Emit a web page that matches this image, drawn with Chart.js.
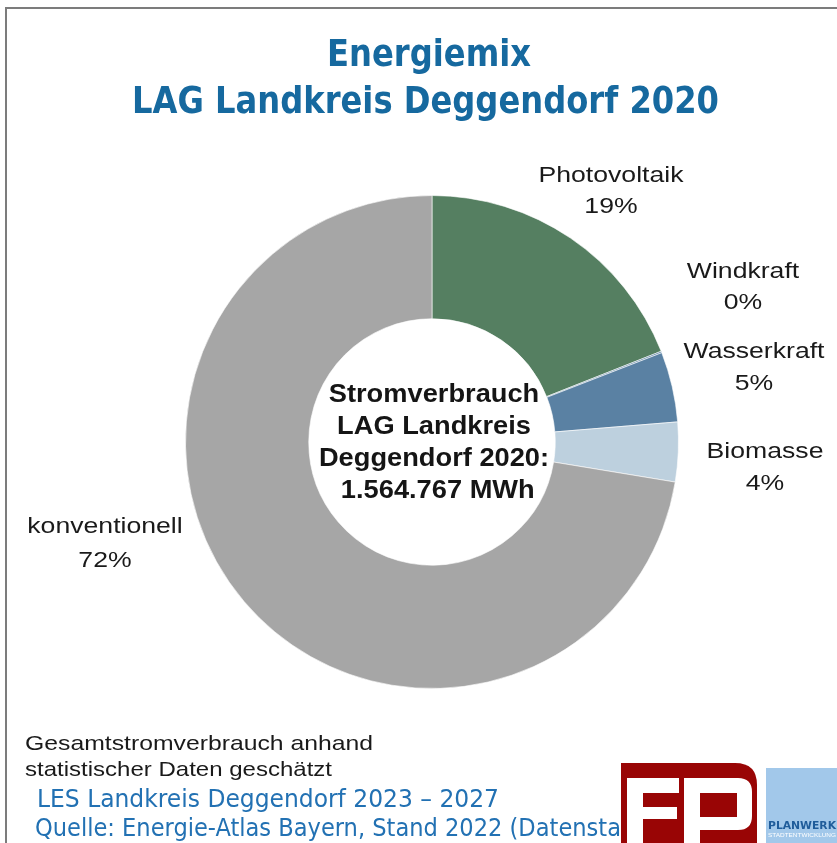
<!DOCTYPE html>
<html>
<head>
<meta charset="utf-8">
<script src="https://cdn.jsdelivr.net/npm/chart.js@4/dist/chart.umd.min.js"></script>
<style>
html,body{margin:0;padding:0;background:#fff;}
#wrap{position:relative;width:837px;height:843px;overflow:hidden;background:#fff;}
canvas{position:absolute;left:0;top:0;}
</style>
</head>
<body>
<div id="wrap"><canvas id="c" width="837" height="843"></canvas></div>
<script>
// ---- data ----
const chartTitle = ['Energiemix', 'LAG Landkreis Deggendorf 2020'];
const categories = ['Photovoltaik', 'Windkraft', 'Wasserkraft', 'Biomasse', 'konventionell'];
const shares = [19.0, 0.1, 4.6, 3.9, 72.4];          // percent of electricity consumption
const sliceColors = ['#557F61', '#5A81A3', '#5A81A3', '#BDD0DE', '#A6A6A6'];
const centerLabel = ['Stromverbrauch', 'LAG Landkreis', 'Deggendorf 2020:'];
const totalMWh = 1564767;
const noteLines = ['Gesamtstromverbrauch anhand', 'statistischer Daten geschätzt'];
const footerLines = ['LES Landkreis Deggendorf 2023 – 2027', 'Quelle: Energie-Atlas Bayern, Stand 2022 (Datensta'];

// draw text stretched to fill [x0,x1] on a baseline
function fitText(ctx, text, x0, x1, y, font, color) {
  ctx.save();
  ctx.font = font;
  ctx.fillStyle = color;
  ctx.textAlign = 'left';
  ctx.textBaseline = 'alphabetic';
  const w = ctx.measureText(text).width;
  ctx.translate(x0, y);
  ctx.scale((x1 - x0) / w, 1);
  ctx.fillText(text, 0, 0);
  ctx.restore();
}
// draw text centred at cx with a horizontal stretch factor
function stretchText(ctx, text, cx, y, font, color, sx) {
  ctx.save();
  ctx.font = font;
  ctx.fillStyle = color;
  ctx.textAlign = 'center';
  ctx.textBaseline = 'alphabetic';
  ctx.translate(cx, y);
  ctx.scale(sx, 1);
  ctx.fillText(text, 0, 0);
  ctx.restore();
}

const decorPlugin = {
  id: 'decor',
  beforeDraw(chart) {
    const ctx = chart.ctx;
    ctx.save();
    ctx.fillStyle = '#fff';
    ctx.fillRect(0, 0, chart.width, chart.height);
    ctx.fillStyle = '#7c7c7c';
    ctx.fillRect(5, 7, chart.width - 5, 2);
    ctx.fillRect(5, 7, 2, chart.height - 7);
    ctx.restore();
  },
  afterDraw(chart, args, opts) {
    const ctx = chart.ctx;
    const meta = chart.getDatasetMeta(0);
    const arc0 = meta.data[0];
    const cx = arc0.x, cy = arc0.y;
    const condFont = '"Liberation Sans Narrow", "DejaVu Sans Condensed", "Arial Narrow", sans-serif';
    const sansFont = '"Liberation Sans", Arial, sans-serif';

    // title
    fitText(ctx, chartTitle[0], 327, 531, 66, 'bold 38px ' + condFont, '#16699F');
    fitText(ctx, chartTitle[1], 132, 719, 113, 'bold 38px ' + condFont, '#16699F');

    // slice labels
    const ds = chart.data.datasets[0];
    chart.data.labels.forEach((lab, i) => {
      const p = opts.labelPos[i];
      const pct = Math.round(ds.data[i]) + '%';
      stretchText(ctx, lab, cx + p[0], cy + p[1], '22px ' + sansFont, '#1a1a1a', 1.21);
      stretchText(ctx, pct, cx + p[0], cy + p[1] + p[2], '22px ' + sansFont, '#1a1a1a', 1.21);
    });

    // centre text
    const totalTxt = ' ' + totalMWh.toLocaleString('de-DE') + ' MWh';
    const lines = centerLabel.concat([totalTxt]);
    lines.forEach((t, k) => {
      stretchText(ctx, t, cx + 2, cy - 40 + 32 * k, 'bold 25px ' + sansFont, '#151515', 1.09);
    });

    // notes
    fitText(ctx, noteLines[0], 25, 373, 750, '21px ' + sansFont, '#1a1a1a');
    fitText(ctx, noteLines[1], 25, 332, 776, '21px ' + sansFont, '#1a1a1a');
    fitText(ctx, footerLines[0], 37, 499, 807, '25px ' + condFont, '#2271B3');
    fitText(ctx, footerLines[1], 35, 621, 836, '25px ' + condFont, '#2271B3');

    // logos
    ctx.save();
    // FP logo
    ctx.fillStyle = '#990505';
    ctx.beginPath();
    ctx.moveTo(621, 763);
    ctx.lineTo(735, 763);
    ctx.quadraticCurveTo(757, 763, 757, 785);
    ctx.lineTo(757, 843);
    ctx.lineTo(621, 843);
    ctx.closePath();
    ctx.fill();
    ctx.fillStyle = '#ffffff';
    ctx.fillRect(627, 778, 52, 15);   // F top bar
    ctx.fillRect(627, 778, 16, 65);   // F stem
    ctx.fillRect(627, 807, 50, 12);   // F middle bar
    ctx.beginPath();                   // P bowl
    ctx.moveTo(684, 778);
    ctx.lineTo(738, 778);
    ctx.quadraticCurveTo(752, 778, 752, 792);
    ctx.lineTo(752, 816);
    ctx.quadraticCurveTo(752, 830, 738, 830);
    ctx.lineTo(700, 830);
    ctx.lineTo(700, 843);
    ctx.lineTo(684, 843);
    ctx.closePath();
    ctx.fill();
    ctx.fillStyle = '#990505';
    ctx.fillRect(700, 793, 37, 24);
    // Planwerk
    ctx.fillStyle = '#A2C8EA';
    ctx.fillRect(766, 768, 71, 75);
    ctx.restore();
    fitText(ctx, 'PLANWERK', 768, 836, 829, 'bold 10px ' + condFont, '#1F5C9A');
    fitText(ctx, 'STADTENTWICKLUNG', 768, 836, 837, '5px ' + sansFont, '#ffffff');
  }
};

new Chart(document.getElementById('c'), {
  type: 'doughnut',
  data: {
    labels: categories,
    datasets: [{
      data: shares,
      backgroundColor: sliceColors,
      borderColor: 'rgba(255,255,255,0.6)',
      borderWidth: 1,
      hoverOffset: 0
    }]
  },
  options: {
    responsive: false,
    animation: false,
    devicePixelRatio: 1,
    cutout: '50%',
    layout: { padding: { left: 185, right: 158, top: 195, bottom: 154 } },
    plugins: {
      legend: { display: false },
      tooltip: { enabled: false },
      decor: {
        // label anchor offsets from the doughnut centre: [dx, dy of first baseline, line gap]
        labelPos: [[179, -260, 31], [311, -164, 31], [322, -84, 32], [333, 16, 32], [-327, 91, 34]]
      }
    }
  },
  plugins: [decorPlugin]
});
</script>
</body>
</html>
